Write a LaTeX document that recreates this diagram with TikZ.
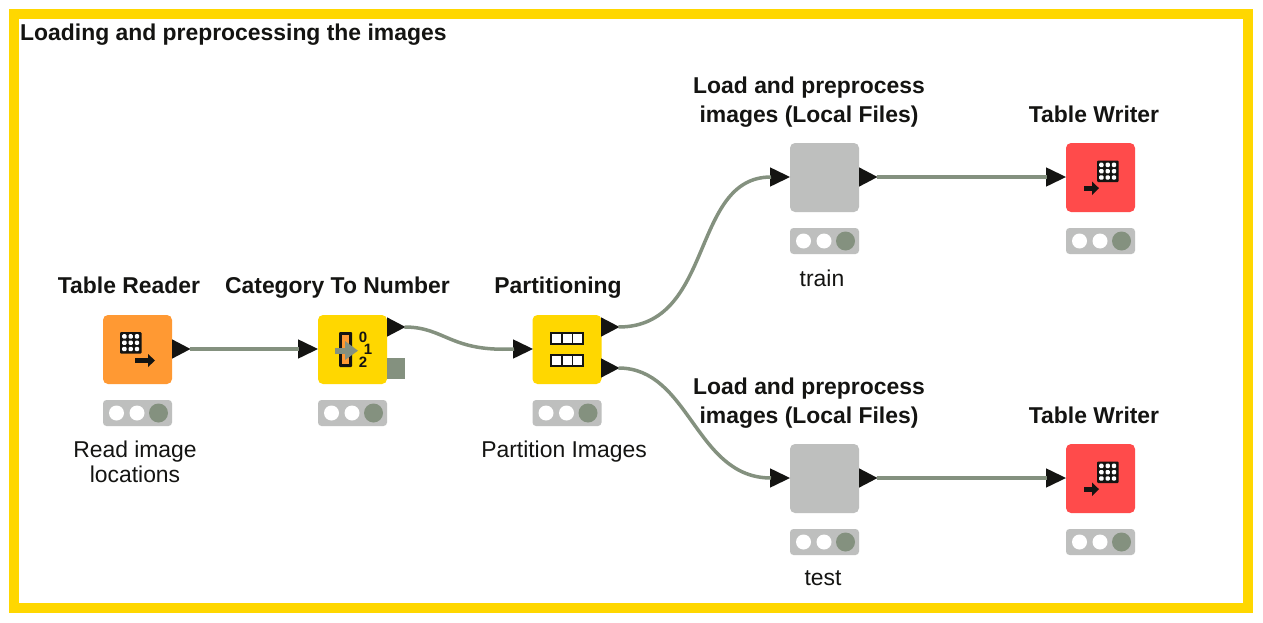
\documentclass[tikz,border=0pt]{standalone}
\usepackage{fontspec}
\setmainfont{Liberation Sans}
\usetikzlibrary{calc}
\definecolor{gold}{HTML}{FFD700}
\definecolor{orangeN}{HTML}{FF9933}
\definecolor{redN}{HTML}{FF4B4B}
\definecolor{grayN}{HTML}{BEBFBE}
\definecolor{wire}{HTML}{84917F}
\definecolor{ink}{HTML}{141412}
\tikzset{
  x=1pt,y=-1pt,
  nodebox/.style={minimum width=69pt,minimum height=69pt,inner sep=0pt,rounded corners=5pt,outer sep=0pt},
  statusbar/.style={fill=grayN,minimum width=69pt,minimum height=26pt,inner sep=0pt,rounded corners=3.5pt,outer sep=0pt},
  lamp/.style={circle,fill=white,minimum size=15pt,inner sep=0pt},
  lampon/.style={circle,fill=wire,minimum size=19pt,inner sep=0pt},
  wirepath/.style={draw=wire,line width=3.5pt},
  porttip/.style={fill=ink},
  title/.style={font=\bfseries\fontsize{22.9}{29}\selectfont,text=ink,align=center,inner sep=0pt},
  note/.style={font=\fontsize{22.9}{25}\selectfont,text=ink,align=center,inner sep=0pt},
  digit/.style={font=\bfseries\fontsize{15}{15}\selectfont,text=ink,inner sep=0pt},
}
% #1 name, #2 x centre, #3 y centre, #4 colour
\newcommand{\knode}[4]{%
  \node[nodebox,fill=#4] (#1) at (#2,#3) {};
  \node[statusbar] (#1-s) at (#2,#3+63.5) {};
  \node[lamp] at (#2-21,#3+63.5) {};
  \node[lamp] at (#2-0.5,#3+63.5) {};
  \node[lampon] at (#2+21,#3+63.5) {};
}
\newcommand{\inport}[3]{%
  \fill[porttip] (#2-20,#3-9.7) -- (#2,#3) -- (#2-20,#3+9.7) -- cycle;
  \coordinate (#1) at (#2-19,#3);
}
\newcommand{\outport}[3]{%
  \fill[porttip] (#2,#3-9.7) -- (#2+18.5,#3) -- (#2,#3+9.7) -- cycle;
  \coordinate (#1) at (#2+17.5,#3);
}
% table icon: #1 x left, #2 y top
\newcommand{\tableicon}[2]{%
  \fill[ink,rounded corners=1pt] (#1,#2) rectangle (#1+21.5,#2+21.5);
  \foreach \i in {0,1,2}{\foreach \j in {0,1,2}{
    \fill[white,rounded corners=1.2pt] (#1+2.2+6.3*\i,#2+2.2+6.3*\j) rectangle +(4.4,4.4);
  }}
}
\begin{document}
\begin{tikzpicture}
\useasboundingbox (0,0) rectangle (1263,623);
\fill[white] (0,0) rectangle (1263,623);
\draw[gold,line width=10pt] (14,14) rectangle (1248,608);

\node[title,anchor=west] (head) at (20,35) {Loading and preprocessing the images};

\knode{reader}{137.5}{349.5}{orangeN}
\knode{cat}{352.5}{349.5}{gold}
\knode{part}{567}{349.5}{gold}
\knode{loadA}{824.5}{177.5}{grayN}
\knode{writeA}{1100.5}{177.5}{redN}
\knode{loadB}{824.5}{478.5}{grayN}
\knode{writeB}{1100.5}{478.5}{redN}

\outport{reader-o}{172}{349}
\inport{cat-i}{318}{349}
\outport{cat-o}{387}{327}
\inport{part-i}{533}{349}
\outport{part-o1}{601}{327}
\outport{part-o2}{601}{368}
\inport{loadA-i}{790}{177}
\outport{loadA-o}{859}{177}
\inport{writeA-i}{1066}{177}
\inport{loadB-i}{790}{478}
\outport{loadB-o}{859}{478}
\inport{writeB-i}{1066}{478}

\path[wirepath] (reader-o) -- (cat-i);
\path[wirepath] (cat-o) .. controls (445,327) and (450,352) .. (part-i);
\path[wirepath] (part-o1) .. controls (715,327) and (690,177) .. (loadA-i);
\path[wirepath] (part-o2) .. controls (690,368) and (695,478) .. (loadB-i);
\path[wirepath] (loadA-o) -- (writeA-i);
\path[wirepath] (loadB-o) -- (writeB-i);

% flow variable port
\fill[wire] (387,358) rectangle (405,379);

% Table Reader icon
\tableicon{120}{332}
\fill[ink] (135,358) rectangle (150,363);
\fill[ink] (148,354) -- (155,360.5) -- (148,367) -- cycle;

% Category To Number icon
\fill[ink,rounded corners=1pt] (339,332) rectangle (352,367);
\fill[orangeN] (342,335) rectangle (349,364);
\fill[wire] (335,347.5) rectangle (348,354);
\fill[wire] (345,341) -- (358,350.7) -- (345,360) -- cycle;
\node[digit] (d0) at (363,337) {0};
\node[digit] (d1) at (368,349.7) {1};
\node[digit] (d2) at (363,362.4) {2};

% Partitioning icon
\foreach \yy in {332,354}{
  \fill[ink] (550,\yy) rectangle (584,\yy+13);
  \foreach \xx in {552,562.5,573}{\fill[white] (\xx,\yy+2) rectangle (\xx+9,\yy+11);}
}

% Table Writer icons
\foreach \yy in {160.5,461.5}{
  \tableicon{1097}{\yy}
  \fill[ink] (1084,\yy+25) rectangle (1094,\yy+30.5);
  \fill[ink] (1092,\yy+21) -- (1099,\yy+27.7) -- (1092,\yy+34.5) -- cycle;
}

% labels
\node[title] (t1) at (129,285.5) {Table Reader};
\node[title] (t2) at (337.5,288) {Category To Number};
\node[title] (t3) at (558,288) {Partitioning};
\node[title] (t4) at (809,102.5) {Load and preprocess\\images (Local Files)};
\node[title] (t5) at (1094,114.5) {Table Writer};
\node[title] (t6) at (809,403.5) {Load and preprocess\\images (Local Files)};
\node[title] (t7) at (1094,415.5) {Table Writer};
\node[note] (n1) at (135,461.5) {Read image\\locations};
\node[note] (n2) at (564,452) {Partition Images};
\node[note] (n3) at (822,278) {train};
\node[note] (n4) at (823,578.5) {test};
\end{tikzpicture}
\end{document}
